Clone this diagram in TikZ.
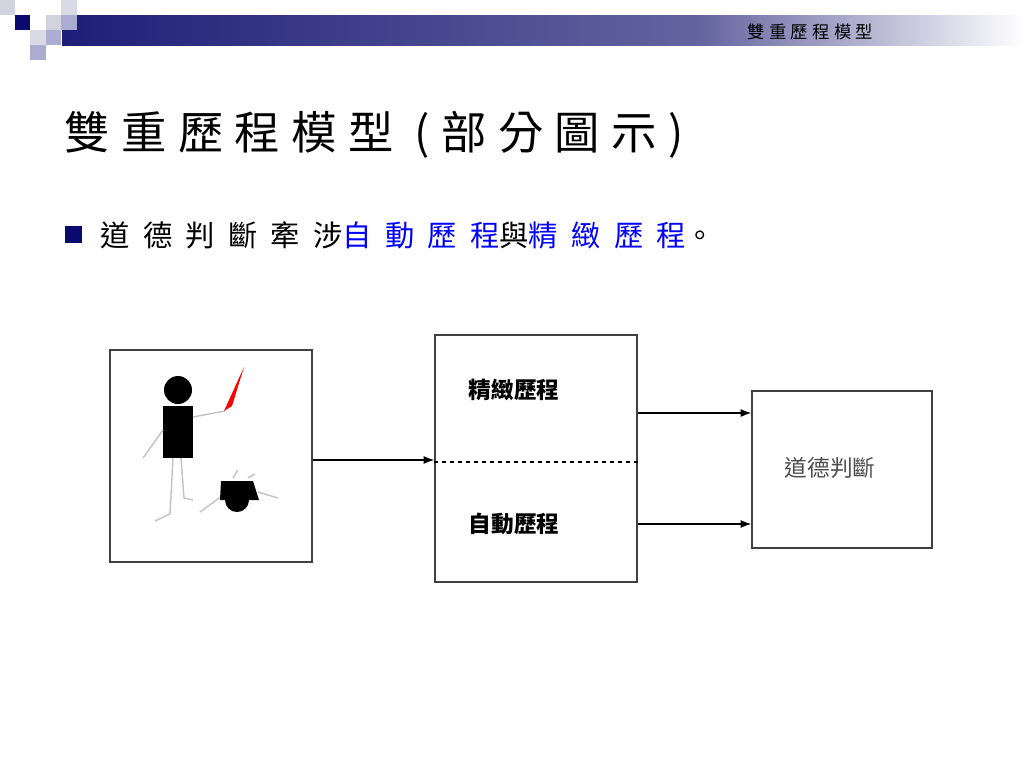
\documentclass[tikz,border=0pt]{standalone}
\usepackage{fontspec}
\newfontfamily\cjk{Noto Sans CJK TC}
\newfontfamily\cjkw{Noto Sans CJK TC}[LetterSpace=25]
\newfontfamily\cjkww{Noto Sans CJK TC}[LetterSpace=45]
\definecolor{navy}{RGB}{10,10,110}
\definecolor{barnavy}{RGB}{30,30,120}
\definecolor{barmid}{RGB}{100,100,160}
\begin{document}
\begin{tikzpicture}[x=0.75pt,y=-0.75pt,
 box/.style={draw=black!75,line width=1.2pt},
 arr/.style={-{Latex[length=8pt,width=6pt]},line width=0.8pt},
 limb/.style={draw=black!25,line width=1pt},
 lbl/.style={font=\cjk\bfseries\fontsize{17}{17}\selectfont}]
\usetikzlibrary{arrows.meta}
\useasboundingbox (0,0) rectangle (1024,768);
% header decoration
\shade[left color=barnavy,right color=barmid] (62,15) rectangle (700,45);
\shade[left color=barmid,right color=white] (700,15) rectangle (1024,45);
\fill[white] (62,15) rectangle (77,30);
\fill[navy] (15,15) rectangle (30,30);
\fill[blue!15!gray!30] (0,0) rectangle (15,15);
\fill[blue!15!gray!30] (46,15) rectangle (61,30);
\fill[blue!30!gray!50] (61,15) rectangle (77,30);
\fill[blue!15!gray!25] (61,0) rectangle (77,15);
\fill[blue!15!gray!25] (30,30) rectangle (46,45);
\fill[blue!30!gray!50] (46,30) rectangle (61,45);
\fill[blue!30!gray!50] (30,45) rectangle (46,60);
\node[font=\cjkw\fontsize{13}{13}\selectfont,anchor=east] (hdr) at (878,32) {雙重歷程模型};
% title
\node[font=\cjkw\fontsize{34}{34}\selectfont,anchor=west] (title) at (60,135) {雙重歷程模型 (部分圖示)};
\fill[navy] (65,226) rectangle (82,243);
\node[font=\cjkww\fontsize{22}{22}\selectfont,anchor=west] (bul) at (96,235) {道德判斷牽涉\textcolor{blue}{自動歷程}與\textcolor{blue}{精緻歷程}。};
% boxes
\node[box,minimum width=151.5pt,minimum height=159pt,inner sep=0] (pic) at (211,456) {};
\node[box,minimum width=151.5pt,minimum height=185pt,inner sep=0] (mid) at (536,458.5) {};
\node[box,minimum width=135pt,minimum height=117.75pt,inner sep=0] (judge) at (842,469.5) {};
\draw[dashed,line width=0.8pt] (mid.west |- 0,462) -- (mid.east |- 0,462);
\node[lbl] (t1) at (514,390) {精緻歷程};
\node[lbl] (t2) at (514,524) {自動歷程};
\node[font=\cjk\fontsize{17}{17}\selectfont,text=black!70] (t3) at (830,468) {道德判斷};
\draw[arr] (pic.east |- 0,460) -- (mid.west |- 0,460);
\draw[arr] (mid.east |- 0,413) -- (judge.west |- 0,413);
\draw[arr] (mid.east |- 0,524) -- (judge.west |- 0,524);
% stick figure
\fill (178,390) circle (14);
\fill (163,406) rectangle (193,458);
\draw[limb] (193,417) -- (225,411);
\draw[limb] (163,430) -- (143,458);
\draw[limb] (173,458) -- (170,514) -- (155,521);
\draw[limb] (181,458) -- (184,498) -- (193,500);
\fill[red] (224,411) -- (232,406) -- (244,367) -- cycle;
% fallen figure
\draw[limb] (200,512) -- (222,496);
\draw[limb] (233,478) -- (238,470);
\draw[limb] (248,478) -- (255,474);
\draw[limb] (258,492) -- (278,498);
\fill (221,481) -- (253,481) -- (259,500) -- (249,500) arc (0:180:12) -- (220,500) -- cycle;
\end{tikzpicture}
\end{document}
